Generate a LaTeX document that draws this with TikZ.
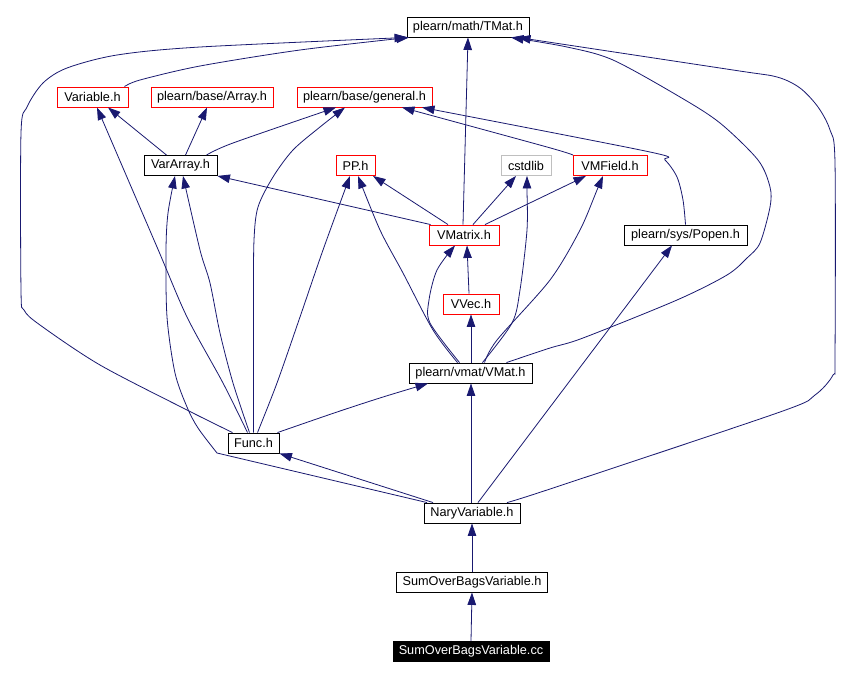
\documentclass[tikz,border=0pt]{standalone}
\usepackage{fontspec}
\setmainfont{Liberation Sans}
\usetikzlibrary{arrows.meta}
\definecolor{edgec}{HTML}{191970}
\definecolor{grayb}{HTML}{BFBFBF}
\begin{document}
\begin{tikzpicture}[x=1pt,y=-1pt,
  box/.style={draw=black, line width=0.9pt, minimum height=20pt, inner sep=0pt, font=\fontsize{12.7}{14}\selectfont},
  redbox/.style={box, draw=red},
  graybox/.style={box, draw=grayb},
  e/.style={draw=edgec, line width=0.8pt, -{Triangle[length=12.5pt,width=8.5pt]}}]
\useasboundingbox[fill=white] (0,0) rectangle (853,678);

% nodes
\node[box, minimum width=122pt] (tmat) at (468,27) {plearn/math/TMat.h};
\node[redbox, minimum width=71pt] (variable) at (92.5,97) {Variable.h};
\node[redbox, minimum width=122pt] (array) at (212,97) {plearn/base/Array.h};
\node[redbox, minimum width=135pt] (general) at (364.5,97) {plearn/base/general.h};
\node[box, minimum width=73pt] (vararray) at (180.5,165.5) {VarArray.h};
\node[redbox, minimum width=39pt] (pp) at (355.5,165.5) {PP.h};
\node[graybox, minimum width=50pt] (cstdlib) at (526,165.5) {cstdlib};
\node[redbox, minimum width=74pt] (vmfield) at (610,165.5) {VMField.h};
\node[redbox, minimum width=70pt] (vmatrix) at (464,235) {VMatrix.h};
\node[box, minimum width=123pt] (popen) at (685.5,235) {plearn/sys/Popen.h};
\node[redbox, minimum width=56pt] (vvec) at (471,304) {VVec.h};
\node[box, minimum width=123pt] (vmat) at (470.5,373) {plearn/vmat/VMat.h};
\node[box, minimum width=51pt] (func) at (253.5,443) {Func.h};
\node[box, minimum width=96pt] (nary) at (472,513) {NaryVariable.h};
\node[box, minimum width=151pt] (sobh) at (472,582) {SumOverBagsVariable.h};
\node[box, fill=black, text=white, minimum width=156pt] (cc) at (471,651.5) {SumOverBagsVariable.cc};

% edges
\draw[e] (cc.north) -- (sobh.south);
\draw[e] (sobh.north) -- (nary.south);
\draw[e] ([xshift=-1pt]nary.north) -- ([xshift=0.5pt]vmat.south);
\draw[e] ([xshift=6pt]nary.north) -- ([xshift=-13.5pt]popen.south);
\draw[e] ([xshift=-39pt]nary.north) -- (func.south east);
\draw[e] ([xshift=-45pt]nary.north) -- (217,453) -- plot[smooth, tension=0.5] coordinates {(217,453) (198,428) (187,407) (175,373) (167,317) (166,250) (168,213) ([xshift=-5.5pt]vararray.south)};
\draw[e] ([xshift=35pt]nary.north) -- plot[smooth, tension=0.5] coordinates {([xshift=35pt]nary.north) (550,489) (780,412) (815,395) (833,375) (835,355) (835,163) (830,130) (818,107) (800,88) (777,77) (733,70) ([xshift=50pt]tmat.south)};
\draw[e] plot[smooth, tension=0.5] coordinates {([xshift=36pt]vmat.north) (550,348) (583,338) (677,300) (727,275) (747,258) (760,243) (770,207) (770,187) (758,160) (720,123) (680,97) (613,60) (567,47) ([xshift=43pt]tmat.south)};
\draw[e] plot[smooth, tension=0.5] coordinates {([xshift=-21pt]func.north) (187,410) (100,365) (40,325) (24,310) (21,290) (21,133) (27,107) (43,83) (67,68) (117,55) (200,47) ([xshift=-61pt]tmat.south)};
\draw[e] plot[smooth, tension=0.5] coordinates {([xshift=32pt]variable.north) (140,80) (200,66) (300,50) ([xshift=-59pt]tmat.south)};
\draw[e] plot[smooth, tension=0.5] coordinates {([xshift=-6pt]func.north) (223,383) (187,317) (157,247) ([xshift=4.5pt]variable.south)};
\draw[e] ([xshift=-14pt]vararray.north) -- ([xshift=15.5pt]variable.south);
\draw[e] ([xshift=5pt]vararray.north) -- ([xshift=-5pt]array.south);
\draw[e] plot[smooth, tension=0.5] coordinates {([xshift=26pt]vararray.north) (233,143) ([xshift=-28.5pt]general.south)};
\draw[e] plot[smooth, tension=0.5] coordinates {(func.north) (253.5,300) (254,240) (258,207) (273,177) (293,150) (320,127) ([xshift=-19.5pt]general.south)};
\draw[e] plot[smooth, tension=0.5] coordinates {([xshift=-4pt]func.north) (233,383) (220,333) (210,283) (200,250) ([xshift=2.5pt]vararray.south)};
\draw[e] plot[smooth, tension=0.5] coordinates {([xshift=4pt]func.north) (277,383) (300,317) (323,250) ([xshift=-5.5pt]pp.south)};
\draw[e] plot[smooth, tension=0.5] coordinates {([xshift=24pt]func.north) (337,412) (383,397) ([xshift=-42.5pt]vmat.south)};
\draw[e] ([xshift=-16pt]vmatrix.north) -- ([xshift=17.5pt]pp.south);
\draw[e] ([xshift=2pt]vmatrix.north west) -- (vararray.south east);
\draw[e] ([xshift=-1pt]vmatrix.north) -- (tmat.south);
\draw[e] ([xshift=9pt]vmatrix.north) -- ([xshift=-10pt]cstdlib.south);
\draw[e] ([xshift=21pt]vmatrix.north) -- ([xshift=-24pt]vmfield.south);
\draw[e] plot[smooth, tension=0.5] coordinates {([xshift=-37pt]vmfield.north) (547,147) ([xshift=37.5pt]general.south)};
\draw[e] plot[smooth, tension=0.5] coordinates {(popen.north) (683,200) (677,177) (665,160) (650,152) ([xshift=57.5pt]general.south)};
\draw[e] plot[smooth, tension=0.5] coordinates {([xshift=-11pt]vmat.north) (430,323) (429,300) (437,270) ([xshift=-9pt]vmatrix.south)};
\draw[e] ([xshift=0.5pt]vmat.north) -- (vvec.south);
\draw[e] ([xshift=-2pt]vvec.north) -- ([xshift=3pt]vmatrix.south);
\draw[e] plot[smooth, tension=0.5] coordinates {([xshift=-13pt]vmat.north) (433,330) (403,273) (380,230) ([xshift=2.5pt]pp.south)};
\draw[e] plot[smooth, tension=0.5] coordinates {([xshift=12pt]vmat.north) (512,323) (520,290) (527,230) (527,190) ([xshift=1pt]cstdlib.south)};
\draw[e] plot[smooth, tension=0.5] coordinates {([xshift=14pt]vmat.north) (497,340) (550,280) (580,230) (597,190) ([xshift=-7pt]vmfield.south)};
\end{tikzpicture}
\end{document}
